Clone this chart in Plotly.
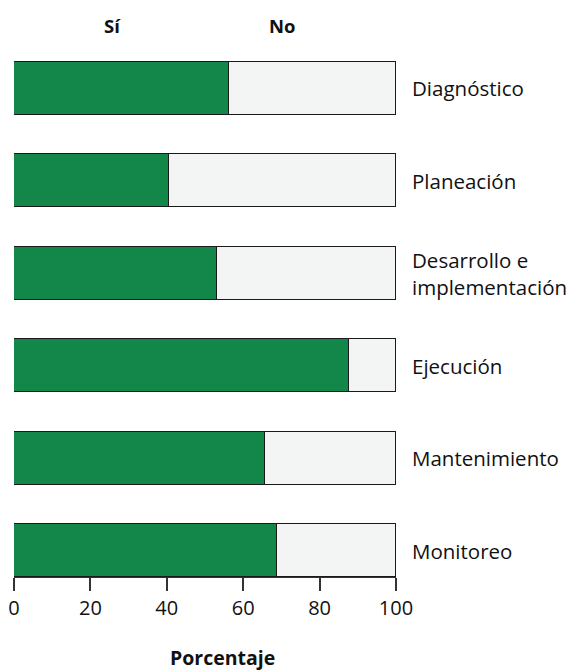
import plotly.graph_objects as go

# Porcentaje de respuestas por etapa
etapas = ["Diagnóstico", "Planeación", "Desarrollo e<br>implementación",
          "Ejecución", "Mantenimiento", "Monitoreo"]
si = [56.4, 40.7, 53.2, 87.6, 65.7, 68.8]
no = [round(100 - v, 1) for v in si]
ticks = [0, 20, 40, 60, 80, 100]

VERDE = "#13874a"
GRIS = "#f3f5f4"
FONT = "Open Sans"

pos = list(range(len(etapas)))

fig = go.Figure()
fig.add_trace(go.Bar(
    y=pos, x=si, orientation="h", name="Sí", width=0.57,
    marker=dict(color=VERDE, line=dict(color="#1a1a1a", width=1.5)),
    hoverinfo="x",
))
fig.add_trace(go.Bar(
    y=pos, x=no, orientation="h", name="No", width=0.57,
    marker=dict(color=GRIS, line=dict(color="#1a1a1a", width=1.5)),
    hoverinfo="x",
))

annotations = []
for p, name in zip(pos, etapas):
    annotations.append(dict(
        x=1, xref="paper", y=p, yref="y", text=name, showarrow=False,
        xanchor="left", align="left", xshift=14,
        font=dict(family=FONT, size=20.5, color="#111"),
    ))
# Column headers above the bars
for label, xc in (("Sí", 25.7), ("No", 70.2)):
    annotations.append(dict(
        x=xc, xref="x", y=1.0, yref="paper", yshift=2, text=f"<b>{label}</b>",
        showarrow=False, xanchor="center", yanchor="bottom",
        font=dict(family=FONT, size=18.5, color="#111"),
    ))
# Axis title
annotations.append(dict(
    x=0.545, xref="paper", y=0, yref="paper", yshift=-80, text="<b>Porcentaje</b>",
    showarrow=False, xanchor="center", yanchor="middle",
    font=dict(family=FONT, size=19.5, color="#111"),
))

fig.update_layout(
    barmode="stack",
    width=579, height=672,
    margin=dict(l=14, r=183, t=42, b=95, autoexpand=False),
    paper_bgcolor="white", plot_bgcolor="white",
    showlegend=False,
    bargap=0,
    annotations=annotations,
    font=dict(family=FONT, color="#111"),
)
fig.update_xaxes(
    range=[0, 100], tickvals=ticks, ticktext=[str(t) for t in ticks],
    showgrid=False, zeroline=False, showline=True, linecolor="#333", linewidth=1,
    ticks="outside", ticklen=13, tickwidth=1.5, tickcolor="#333",
    tickfont=dict(family=FONT, size=20, color="#111"),
    fixedrange=True,
)
fig.update_yaxes(
    range=[5.285, -0.5], showticklabels=False, showgrid=False,
    zeroline=False, showline=False, ticks="", fixedrange=True,
)

fig.write_html("out.html")
